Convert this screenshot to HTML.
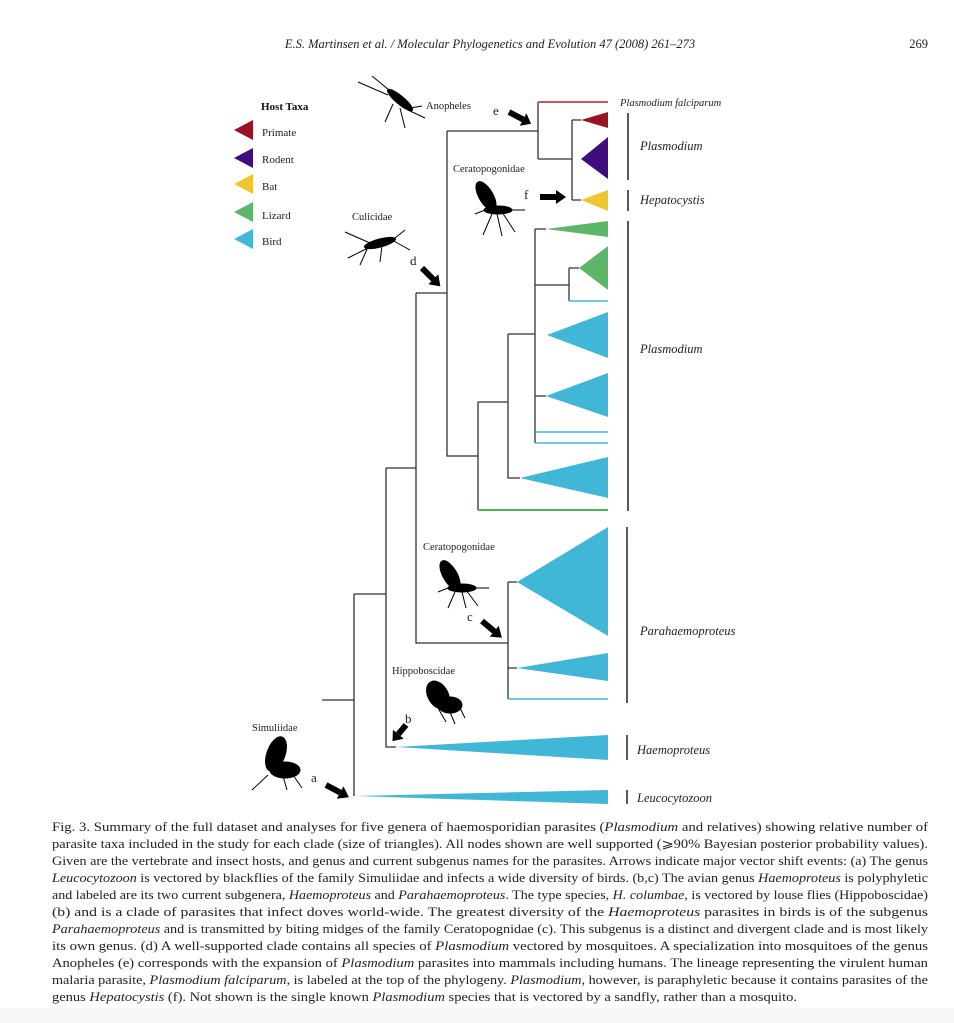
<!DOCTYPE html>
<html><head><meta charset="utf-8"><style>
html,body{margin:0;padding:0;background:#fff;}
svg{display:block;font-family:"Liberation Serif",serif;}
</style></head><body>
<svg width="954" height="1023" viewBox="0 0 954 1023" xmlns="http://www.w3.org/2000/svg">
<rect width="954" height="1023" fill="#fff"/>
<rect y="1008" width="954" height="15" fill="#f6f6f6"/>
<text x="490" y="48" font-size="12.5" font-style="italic" text-anchor="middle" fill="#222">E.S. Martinsen et al. / Molecular Phylogenetics and Evolution 47 (2008) 261–273</text>
<text x="928" y="48" font-size="12.5" text-anchor="end" fill="#222">269</text>

<!-- legend -->
<text x="261" y="110" font-size="11" font-weight="bold" fill="#111">Host Taxa</text>
<polygon points="234,130 253,120 253,140" fill="#9b1323"/>
<polygon points="234,158 253,148 253,168" fill="#3f0e7e"/>
<polygon points="234,184 253,174 253,194" fill="#efc72c"/>
<polygon points="234,212 253,202 253,222" fill="#5db768"/>
<polygon points="234,239 253,229 253,249" fill="#40b7d6"/>
<g font-size="11" fill="#222">
<text x="262" y="136">Primate</text><text x="262" y="163">Rodent</text><text x="262" y="190">Bat</text><text x="262" y="219">Lizard</text><text x="262" y="245">Bird</text>
</g>

<!-- tree lines -->
<g stroke="#333" stroke-width="1.3" fill="none">
<path d="M538,102 V159 M447,131 H538 M538,159 H572 M572,120 V200 M572,120 H581 M572,200 H581"/>
<path d="M447,131 V456 H478 M478,402 V510 M478,402 H508 M508,334 V478 H520 M508,334 H535 M535,229 V443 M535,229 H546 M535,285 H569 M569,268 V301 M569,268 H579 M535,396 H546"/>
<path d="M416,293 V643 H508 M508,582 V699 M508,582 H517 M508,668 H517 M416,293 H447"/>
<path d="M386,468 H416 M386,468 V747 H396 M354,594 H386 M354,594 V796 M322,700 H354"/>
</g>
<line x1="538" y1="102" x2="608" y2="102" stroke="#b3262c" stroke-width="1.5"/>
<line x1="478" y1="510" x2="608" y2="510" stroke="#3aa33a" stroke-width="1.8"/>
<g stroke="#40b7d6" stroke-width="1.5">
<line x1="569" y1="301" x2="608" y2="301"/><line x1="535" y1="432" x2="608" y2="432"/><line x1="535" y1="443" x2="608" y2="443"/><line x1="508" y1="699" x2="608" y2="699"/>
</g>
<polygon points="581,120 608,112 608,128" fill="#9b1323"/>
<polygon points="581,159 608,137 608,179" fill="#3f0e7e"/>
<polygon points="581,200 608,190 608,211" fill="#efc72c"/>
<polygon points="546,229 608,221 608,237" fill="#5db768"/>
<polygon points="579,268 608,246 608,290" fill="#5db768"/>
<g fill="#40b7d6">
<polygon points="547,335 608,312 608,358"/>
<polygon points="546,396 608,373 608,417"/>
<polygon points="520,478 608,457 608,498"/>
<polygon points="517,582 608,527 608,636"/>
<polygon points="517,668 608,653 608,681"/>
<polygon points="396,747 608,735 608,760"/>
<polygon points="354,796 608,790 608,804"/>
</g>
<!-- bars -->
<g stroke="#222" stroke-width="1.5">
<line x1="628" y1="113" x2="628" y2="180"/><line x1="628" y1="190" x2="628" y2="211"/><line x1="628" y1="221" x2="628" y2="511"/>
<line x1="627" y1="527" x2="627" y2="703"/><line x1="627" y1="735" x2="627" y2="760"/><line x1="627" y1="790" x2="627" y2="804"/>
</g>
<g font-size="12.5" font-style="italic" fill="#222">
<text x="620" y="106" font-size="10.5">Plasmodium falciparum</text>
<text x="640" y="150">Plasmodium</text>
<text x="640" y="204">Hepatocystis</text>
<text x="640" y="353">Plasmodium</text>
<text x="640" y="635">Parahaemoproteus</text>
<text x="637" y="754">Haemoproteus</text>
<text x="637" y="802">Leucocytozoon</text>
</g>

<!-- insect labels -->
<g font-size="10.5" fill="#222">
<text x="426" y="109">Anopheles</text>
<text x="453" y="172">Ceratopogonidae</text>
<text x="352" y="220">Culicidae</text>
<text x="423" y="550">Ceratopogonidae</text>
<text x="392" y="674">Hippoboscidae</text>
<text x="252" y="731">Simuliidae</text>
</g>
<g font-size="13" fill="#222">
<text x="493" y="115">e</text><text x="524" y="199">f</text><text x="410" y="265">d</text>
<text x="467" y="621">c</text><text x="405" y="723">b</text><text x="311" y="782">a</text>
</g>
<!-- arrows -->
<g fill="#000">
<g transform="translate(509,112) rotate(28)"><rect x="0" y="-3" width="16" height="6"/><polygon points="16,-7 25,0 16,7"/></g>
<g transform="translate(540,197)"><rect x="0" y="-3" width="16" height="6"/><polygon points="16,-7 26,0 16,7"/></g>
<g transform="translate(422,268) rotate(45)"><rect x="0" y="-3" width="16" height="6"/><polygon points="16,-7 26,0 16,7"/></g>
<g transform="translate(482,621) rotate(40)"><rect x="0" y="-3" width="16" height="6"/><polygon points="16,-7 26,0 16,7"/></g>
<g transform="translate(406,725) rotate(130)"><rect x="0" y="-3" width="12" height="6"/><polygon points="12,-7 21,0 12,7"/></g>
<g transform="translate(326,785) rotate(28)"><rect x="0" y="-3" width="16" height="6"/><polygon points="16,-7 26,0 16,7"/></g>
</g>
<!-- insects -->
<g fill="#000" stroke="#000" stroke-width="1">
<!-- anopheles -->
<ellipse cx="400" cy="100" rx="16" ry="4" transform="rotate(40 400 100)"/>
<path d="M358,82 L388,95 M372,76 L395,95 M393,104 L385,122 M400,108 L405,128 M408,110 L425,118 M410,108 L422,106" fill="none"/>
<!-- ceratopogonidae top -->
<ellipse cx="486" cy="196" rx="7" ry="16" transform="rotate(-30 486 196)"/>
<ellipse cx="498" cy="210" rx="14" ry="4"/>
<path d="M475,214 L490,208 M492,214 L483,235 M497,214 L502,236 M502,212 L515,232 M508,210 L525,210" fill="none"/>
<!-- culicidae -->
<ellipse cx="380" cy="243" rx="16" ry="4" transform="rotate(-15 380 243)"/>
<path d="M345,232 L370,243 M348,258 L372,246 M368,247 L360,265 M382,246 L380,262 M392,240 L410,250 M395,238 L405,230" fill="none"/>
<!-- ceratopogonidae bottom -->
<ellipse cx="450" cy="575" rx="7" ry="16" transform="rotate(-30 450 575)"/>
<ellipse cx="462" cy="588" rx="14" ry="4"/>
<path d="M438,592 L453,586 M455,592 L448,608 M462,592 L466,608 M466,590 L478,606 M472,588 L489,588" fill="none"/>
<!-- hippoboscidae -->
<ellipse cx="438" cy="695" rx="10" ry="15" transform="rotate(-30 438 695)"/>
<ellipse cx="450" cy="705" rx="12" ry="8"/>
<path d="M438,708 L446,722 M450,712 L455,724 M460,708 L465,718" fill="none"/>
<!-- simuliidae -->
<ellipse cx="276" cy="754" rx="9" ry="18" transform="rotate(20 276 754)"/>
<ellipse cx="285" cy="770" rx="15" ry="8"/>
<path d="M268,775 L252,790 M283,776 L287,790 M293,775 L302,788" fill="none"/>
</g>

<!-- caption -->
<g font-size="12.3" fill="#222">
<text x="52" y="831" textLength="876" lengthAdjust="spacingAndGlyphs">Fig. 3. Summary of the full dataset and analyses for five genera of haemosporidian parasites (<tspan font-style="italic">Plasmodium</tspan> and relatives) showing relative number of</text>
<text x="52" y="848" textLength="876" lengthAdjust="spacingAndGlyphs">parasite taxa included in the study for each clade (size of triangles). All nodes shown are well supported (⩾90% Bayesian posterior probability values).</text>
<text x="52" y="865" textLength="876" lengthAdjust="spacingAndGlyphs">Given are the vertebrate and insect hosts, and genus and current subgenus names for the parasites. Arrows indicate major vector shift events: (a) The genus</text>
<text x="52" y="882" textLength="876" lengthAdjust="spacingAndGlyphs"><tspan font-style="italic">Leucocytozoon</tspan> is vectored by blackflies of the family Simuliidae and infects a wide diversity of birds. (b,c) The avian genus <tspan font-style="italic">Haemoproteus</tspan> is polyphyletic</text>
<text x="52" y="899" textLength="876" lengthAdjust="spacingAndGlyphs">and labeled are its two current subgenera, <tspan font-style="italic">Haemoproteus</tspan> and <tspan font-style="italic">Parahaemoproteus</tspan>. The type species, <tspan font-style="italic">H. columbae</tspan>, is vectored by louse flies (Hippoboscidae)</text>
<text x="52" y="916" textLength="876" lengthAdjust="spacingAndGlyphs">(b) and is a clade of parasites that infect doves world-wide. The greatest diversity of the <tspan font-style="italic">Haemoproteus</tspan> parasites in birds is of the subgenus</text>
<text x="52" y="933" textLength="876" lengthAdjust="spacingAndGlyphs"><tspan font-style="italic">Parahaemoproteus</tspan> and is transmitted by biting midges of the family Ceratopognidae (c). This subgenus is a distinct and divergent clade and is most likely</text>
<text x="52" y="950" textLength="876" lengthAdjust="spacingAndGlyphs">its own genus. (d) A well-supported clade contains all species of <tspan font-style="italic">Plasmodium</tspan> vectored by mosquitoes. A specialization into mosquitoes of the genus</text>
<text x="52" y="967" textLength="876" lengthAdjust="spacingAndGlyphs">Anopheles (e) corresponds with the expansion of <tspan font-style="italic">Plasmodium</tspan> parasites into mammals including humans. The lineage representing the virulent human</text>
<text x="52" y="984" textLength="876" lengthAdjust="spacingAndGlyphs">malaria parasite, <tspan font-style="italic">Plasmodium falciparum</tspan>, is labeled at the top of the phylogeny. <tspan font-style="italic">Plasmodium</tspan>, however, is paraphyletic because it contains parasites of the</text>
<text x="52" y="1001" textLength="745" lengthAdjust="spacingAndGlyphs">genus <tspan font-style="italic">Hepatocystis</tspan> (f). Not shown is the single known <tspan font-style="italic">Plasmodium</tspan> species that is vectored by a sandfly, rather than a mosquito.</text>
</g>
</svg>
</body></html>
